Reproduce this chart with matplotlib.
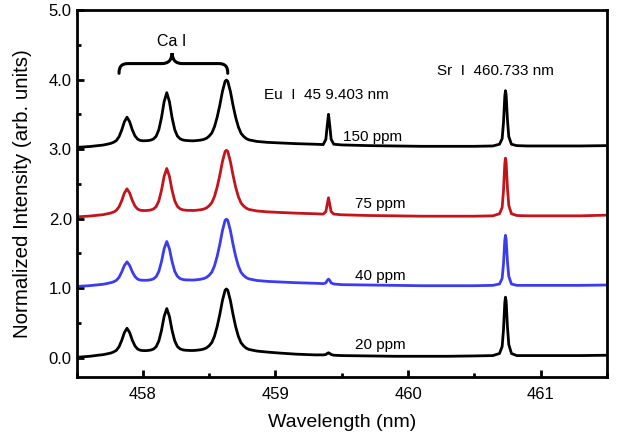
import matplotlib
matplotlib.use("Agg")
import matplotlib.pyplot as plt
from matplotlib.path import Path
from matplotlib.patches import PathPatch

plt.rcParams["font.family"] = ["Liberation Sans", "DejaVu Sans"]

# wavelength grid (nm), shared by all four spectra
wavelength = [
    457.50, 457.60, 457.66, 457.70, 457.72, 457.74, 457.76, 457.78, 457.80, 457.82,
    457.84, 457.86, 457.88, 457.90, 457.92, 457.94, 457.96, 457.98, 458.00, 458.02,
    458.04, 458.06, 458.08, 458.10, 458.12, 458.14, 458.16, 458.18, 458.20, 458.22,
    458.24, 458.26, 458.28, 458.30, 458.32, 458.34, 458.36, 458.38, 458.40, 458.42,
    458.44, 458.46, 458.48, 458.50, 458.52, 458.54, 458.56, 458.58, 458.60, 458.62,
    458.63, 458.64, 458.66, 458.68, 458.70, 458.72, 458.74, 458.76, 458.78, 458.80,
    458.86, 458.94, 459.04, 459.16, 459.30,
    459.36, 459.38, 459.39, 459.40, 459.41, 459.42, 459.44, 459.50, 459.70, 459.90,
    460.10, 460.30, 460.50, 460.64, 460.69, 460.71, 460.72, 460.73, 460.735, 460.74,
    460.75, 460.76, 460.78, 460.82, 460.90, 461.10, 461.30, 461.50,
]

# normalized intensities (before vertical offset)
int_20ppm = [
    0.005, 0.02, 0.035, 0.043, 0.051, 0.059, 0.068, 0.083, 0.106, 0.157,
    0.247, 0.360, 0.423, 0.361, 0.251, 0.169, 0.124, 0.107, 0.102, 0.101,
    0.104, 0.110, 0.124, 0.158, 0.239, 0.391, 0.592, 0.706, 0.593, 0.392,
    0.242, 0.161, 0.127, 0.113, 0.107, 0.105, 0.103, 0.103, 0.106, 0.110,
    0.115, 0.125, 0.141, 0.172, 0.218, 0.309, 0.447, 0.621, 0.823, 0.970,
    0.988, 0.970, 0.822, 0.620, 0.444, 0.307, 0.215, 0.168, 0.136, 0.118,
    0.095, 0.080, 0.065, 0.050, 0.040,
    0.040, 0.045, 0.060, 0.070, 0.060, 0.045, 0.035, 0.030, 0.025, 0.020,
    0.020, 0.020, 0.025, 0.030, 0.060, 0.16, 0.40, 0.79, 0.87, 0.81,
    0.44, 0.19, 0.06, 0.03, 0.03, 0.03, 0.03, 0.035,
]
int_40ppm = [
    0.024, 0.036, 0.048, 0.056, 0.063, 0.071, 0.080, 0.092, 0.113, 0.156,
    0.232, 0.325, 0.378, 0.326, 0.235, 0.167, 0.130, 0.116, 0.113, 0.113,
    0.115, 0.121, 0.134, 0.165, 0.240, 0.380, 0.566, 0.671, 0.567, 0.381,
    0.243, 0.170, 0.138, 0.125, 0.119, 0.118, 0.117, 0.116, 0.120, 0.124,
    0.129, 0.139, 0.155, 0.186, 0.231, 0.321, 0.457, 0.629, 0.829, 0.975,
    0.992, 0.975, 0.829, 0.629, 0.455, 0.319, 0.228, 0.182, 0.151, 0.133,
    0.110, 0.097, 0.088, 0.078, 0.070,
    0.065, 0.075, 0.110, 0.130, 0.110, 0.075, 0.060, 0.050, 0.045, 0.040,
    0.035, 0.035, 0.035, 0.040, 0.060, 0.14, 0.35, 0.69, 0.76, 0.70,
    0.38, 0.17, 0.06, 0.04, 0.04, 0.04, 0.04, 0.045,
]
int_75ppm = [
    0.025, 0.037, 0.049, 0.057, 0.065, 0.073, 0.082, 0.096, 0.120, 0.170,
    0.257, 0.367, 0.428, 0.368, 0.261, 0.181, 0.138, 0.121, 0.116, 0.116,
    0.119, 0.125, 0.139, 0.173, 0.254, 0.406, 0.607, 0.721, 0.608, 0.407,
    0.256, 0.176, 0.142, 0.127, 0.121, 0.119, 0.118, 0.117, 0.120, 0.124,
    0.129, 0.138, 0.154, 0.185, 0.230, 0.319, 0.453, 0.624, 0.821, 0.966,
    0.983, 0.966, 0.820, 0.623, 0.451, 0.316, 0.226, 0.181, 0.150, 0.132,
    0.110, 0.097, 0.088, 0.078, 0.070,
    0.065, 0.100, 0.200, 0.300, 0.200, 0.100, 0.065, 0.055, 0.045, 0.040,
    0.035, 0.035, 0.035, 0.040, 0.070, 0.16, 0.40, 0.79, 0.87, 0.81,
    0.44, 0.19, 0.07, 0.045, 0.04, 0.04, 0.04, 0.05,
]
int_150ppm = [
    0.025, 0.037, 0.050, 0.058, 0.066, 0.074, 0.084, 0.099, 0.124, 0.178,
    0.273, 0.392, 0.459, 0.393, 0.277, 0.190, 0.143, 0.125, 0.120, 0.120,
    0.123, 0.130, 0.146, 0.185, 0.278, 0.451, 0.681, 0.811, 0.682, 0.452,
    0.280, 0.188, 0.149, 0.132, 0.125, 0.122, 0.120, 0.119, 0.122, 0.126,
    0.131, 0.140, 0.156, 0.187, 0.232, 0.322, 0.458, 0.630, 0.830, 0.976,
    0.993, 0.976, 0.829, 0.629, 0.455, 0.319, 0.228, 0.182, 0.151, 0.133,
    0.110, 0.097, 0.088, 0.078, 0.070,
    0.065, 0.140, 0.330, 0.500, 0.330, 0.140, 0.070, 0.060, 0.050, 0.045,
    0.040, 0.040, 0.040, 0.045, 0.070, 0.15, 0.38, 0.76, 0.84, 0.78,
    0.42, 0.18, 0.07, 0.05, 0.045, 0.045, 0.045, 0.05,
]

series = [int_20ppm, int_40ppm, int_75ppm, int_150ppm]
labels = ["20 ppm", "40 ppm", "75 ppm", "150 ppm"]
offsets = [0, 1, 2, 3]
colors = ["black", "#3b3bef", "#c3141c", "black"]

fig = plt.figure(figsize=(6.18, 4.37), dpi=100)
ax = fig.add_axes([0.124, 0.137, 0.858, 0.840])

for vals, off, col in zip(series, offsets, colors):
    ax.plot(wavelength, [v + off for v in vals], color=col, lw=2.0,
            solid_joinstyle="round")

# concentration labels
label_pos = [(459.60, 0.18), (459.60, 1.18), (459.60, 2.21), (459.51, 3.17)]
for (x, y), lab in zip(label_pos, labels):
    ax.text(x, y, lab, fontsize=11, va="center", ha="left")

ax.text(458.91, 3.78, "Eu  I  45 9.403 nm", fontsize=11, va="center", ha="left")
ax.text(460.215, 4.12, "Sr  I  460.733 nm", fontsize=11, va="center", ha="left")
ax.text(458.22, 4.55, "Ca I", fontsize=11.5, va="center", ha="center")

# curly brace over the Ca I triplet
verts = [
    (457.82, 4.09),
    (457.82, 4.19), (457.84, 4.23), (457.89, 4.23),
    (458.14, 4.23),
    (458.19, 4.23), (458.215, 4.27), (458.22, 4.38),
    (458.225, 4.27), (458.25, 4.23), (458.30, 4.23),
    (458.57, 4.23),
    (458.62, 4.23), (458.64, 4.19), (458.64, 4.09),
]
codes = ([Path.MOVETO] + [Path.CURVE4] * 3 + [Path.LINETO]
         + [Path.CURVE4] * 6 + [Path.LINETO] + [Path.CURVE4] * 3)
ax.add_patch(PathPatch(Path(verts, codes), fill=False, lw=2.2,
                       edgecolor="black", capstyle="round"))

ax.set_xlim(457.5, 461.5)
ax.set_ylim(-0.28, 5.0)
ax.set_xticks([458, 459, 460, 461])
ax.set_xticks([457.5, 458.5, 459.5, 460.5, 461.5], minor=True)
ax.set_yticks([0, 1, 2, 3, 4, 5])
ax.set_yticks([0.5, 1.5, 2.5, 3.5, 4.5], minor=True)
ax.set_yticklabels([f"{v:.1f}" for v in [0, 1, 2, 3, 4, 5]])
ax.tick_params(which="both", direction="in", top=False, right=False,
               labelsize=12, width=2)
ax.tick_params(which="major", length=5)
ax.tick_params(which="minor", length=3)
ax.tick_params(axis="x", pad=7)
for sp in ax.spines.values():
    sp.set_linewidth(2)

ax.set_xlabel("Wavelength (nm)", fontsize=14, labelpad=9)
ax.set_ylabel("Normalized Intensity (arb. units)", fontsize=14.8, labelpad=12)

fig.savefig("out.png", dpi=100)
